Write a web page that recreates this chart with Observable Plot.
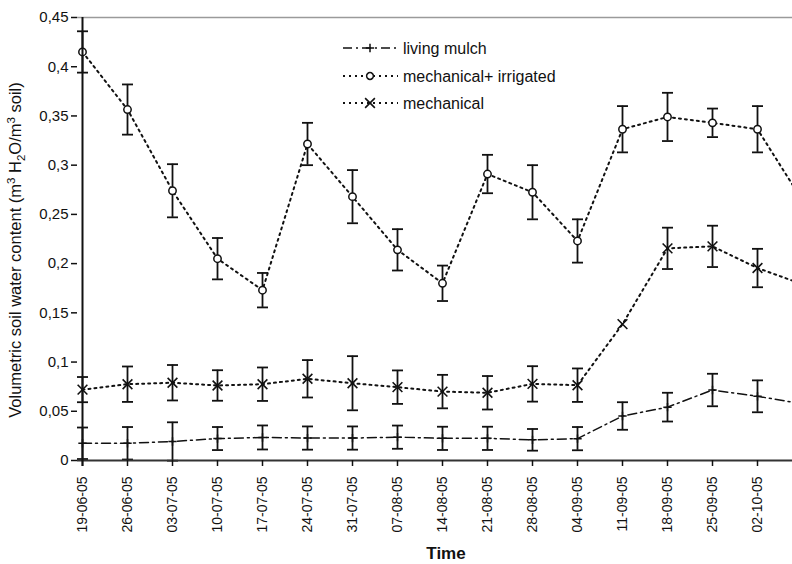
<!DOCTYPE html>
<html><head><meta charset="utf-8">
<script src="https://cdn.jsdelivr.net/npm/d3@7"></script>
<script src="https://cdn.jsdelivr.net/npm/@observablehq/plot@0.6"></script>
<style>
html,body{margin:0;padding:0;background:#fff;overflow:hidden;}
#chart svg{overflow:hidden;}
</style></head><body><div id="chart"></div>
<script>
const dates = ["19-06-05","26-06-05","03-07-05","10-07-05","17-07-05","24-07-05","31-07-05","07-08-05","14-08-05","21-08-05","28-08-05","04-09-05","11-09-05","18-09-05","25-09-05","02-10-05","09-10-05"];
const xTickLabels = dates.slice(0, 16);
const yTickValues = [0,0.05,0.1,0.15,0.2,0.25,0.3,0.35,0.4,0.45];
const yTickLabels = ["0","0,05","0,1","0,15","0,2","0,25","0,3","0,35","0,4","0,45"];
const seriesNames = ["living mulch","mechanical+ irrigated","mechanical"];

const mulchMean = [0.0175,0.0175,0.0193,0.0223,0.0234,0.0228,0.0228,0.0237,0.0225,0.0225,0.021,0.0222,0.0452,0.0542,0.0716,0.0652,0.0576];
const mulchErr  = [0.016,0.0165,0.0195,0.0117,0.0122,0.0118,0.0118,0.0118,0.0118,0.0118,0.011,0.0118,0.014,0.0146,0.0165,0.0162,0.015];
const irrigMean = [0.415,0.3565,0.274,0.205,0.173,0.3215,0.268,0.214,0.180,0.291,0.2725,0.223,0.3365,0.349,0.343,0.3365,0.264];
const irrigErr  = [0.021,0.0255,0.027,0.021,0.0175,0.0215,0.027,0.021,0.018,0.0195,0.0275,0.022,0.0235,0.0245,0.0145,0.0235,0.02];
const mechMean  = [0.072,0.0775,0.079,0.0762,0.0775,0.083,0.0785,0.0745,0.070,0.0688,0.0778,0.0765,0.1385,0.2155,0.2175,0.1955,0.179];
const mechErr   = [0.0128,0.018,0.018,0.0155,0.017,0.019,0.0275,0.017,0.017,0.017,0.018,0.017,0,0.021,0.021,0.0195,0.018];

function build(name, means, errs) {
  return means.map((m, i) => ({series: name, date: dates[i], mean: m,
    lo: errs[i] ? m - errs[i] : null, hi: errs[i] ? m + errs[i] : null}));
}
const mulch = build(seriesNames[0], mulchMean, mulchErr);
const irrig = build(seriesNames[1], irrigMean, irrigErr);
const mech  = build(seriesNames[2], mechMean, mechErr);
const all = [...mulch, ...irrig, ...mech];
const withErr = all.filter(d => d.lo != null);

const cap = { draw(ctx, size) { const w = Math.sqrt(size / Math.PI); ctx.moveTo(-w, 0); ctx.lineTo(w, 0); } };
const ink = "#111";

const chart = Plot.plot({
  width: 792, height: 564,
  marginLeft: 77, marginRight: 0, marginTop: 17, marginBottom: 104,
  style: {fontFamily: "Liberation Sans, Arial, sans-serif", color: ink, background: "#fff"},
  x: {type: "point", domain: dates, range: [77, 807.7], padding: 0, align: 0.5},
  y: {domain: [0, 0.45], range: [460, 17]},
  marks: [
    Plot.ruleY([0.45], {stroke: "#9a9a9a", strokeWidth: 1.6}),
    Plot.line(mulch, {x: "date", y: "mean", stroke: ink, strokeWidth: 1.5, strokeDasharray: "9,4,2,4"}),
    Plot.line(irrig, {x: "date", y: "mean", stroke: ink, strokeWidth: 2, strokeDasharray: "2,4"}),
    Plot.line(mech,  {x: "date", y: "mean", stroke: ink, strokeWidth: 2, strokeDasharray: "2,4"}),
    Plot.ruleX(withErr, {x: "date", y1: "lo", y2: "hi", stroke: ink, strokeWidth: 1.8}),
    Plot.dot(withErr, {x: "date", y: "lo", symbol: cap, r: 5.5, fill: "none", stroke: ink, strokeWidth: 1.8}),
    Plot.dot(withErr, {x: "date", y: "hi", symbol: cap, r: 5.5, fill: "none", stroke: ink, strokeWidth: 1.8}),
    Plot.dot(irrig, {x: "date", y: "mean", symbol: "circle", r: 3.7, fill: "white", stroke: ink, strokeWidth: 1.5}),
    Plot.dot(mech,  {x: "date", y: "mean", symbol: "times", r: 4.5, stroke: ink, strokeWidth: 1.6}),
    Plot.dot(mulch, {x: "date", y: "mean", symbol: "plus", r: 2.8, stroke: ink, strokeWidth: 1.5}),
    Plot.ruleY([0], {stroke: "#333", strokeWidth: 2}),
    Plot.ruleX([dates[0]], {stroke: ink, strokeWidth: 2, insetBottom: -6}),
    Plot.axisY({ticks: yTickValues, tickFormat: d => yTickLabels[yTickValues.indexOf(d)], tickSize: 6, tickPadding: 3, fontSize: 15, strokeWidth: 1.5, label: null}),
    Plot.axisX({ticks: xTickLabels, tickRotate: -90, tickSize: 6, tickPadding: 10, fontSize: 14, strokeWidth: 1.5, label: null})
  ]
});
document.getElementById("chart").appendChild(chart);

const svg = d3.select(chart);
const font = "Liberation Sans, Arial, sans-serif";

// y-axis title
const yt = svg.append("text").attr("transform", "translate(21,250) rotate(-90)")
  .attr("text-anchor", "middle").attr("font-family", font).attr("font-size", 16.5).attr("fill", ink);
const parts = [["Volumetric soil water content (m",0],["3",-1],[" H",0],["2",1],["O/m",0],["3",-1],[" soil)",0]];
let prev = 0;
parts.forEach(([t, s]) => {
  const shift = s === -1 ? -6 : s === 1 ? 4 : 0;
  yt.append("tspan").attr("dy", shift - prev).attr("font-size", s ? 11.5 : 16.5).text(t);
  prev = shift;
});

// x-axis title
svg.append("text").attr("x", 446).attr("y", 559).attr("text-anchor", "middle")
  .attr("font-family", font).attr("font-size", 17).attr("font-weight", "bold").attr("fill", ink).text("Time");

// legend
const lg = svg.append("g").attr("font-family", font).attr("font-size", 16).attr("fill", ink).attr("text-anchor", "start");
const legendStyles = [
  {dash: "9,4,2,4", sym: d3.symbolPlus, size: 2.8*2.8*Math.PI, fill: "none", sw: 1.5},
  {dash: "2,4", sym: d3.symbolCircle, size: 3.4*3.4*Math.PI, fill: "white", sw: 1.5},
  {dash: "2,4", sym: d3.symbolTimes, size: 4.5*4.5*Math.PI, fill: "none", sw: 1.6}
];
const rowsY = [48, 76, 103];
seriesNames.forEach((name, i) => {
  const y = rowsY[i], st = legendStyles[i];
  lg.append("line").attr("x1", 343).attr("x2", 398).attr("y1", y).attr("y2", y)
    .attr("stroke", ink).attr("stroke-width", i ? 2 : 1.5).attr("stroke-dasharray", st.dash);
  lg.append("path").attr("d", d3.symbol(st.sym, st.size)()).attr("transform", `translate(370,${y})`)
    .attr("fill", st.fill).attr("stroke", ink).attr("stroke-width", st.sw);
  lg.append("text").attr("x", 403).attr("y", y + 5.5).text(name);
});
</script></body></html>
